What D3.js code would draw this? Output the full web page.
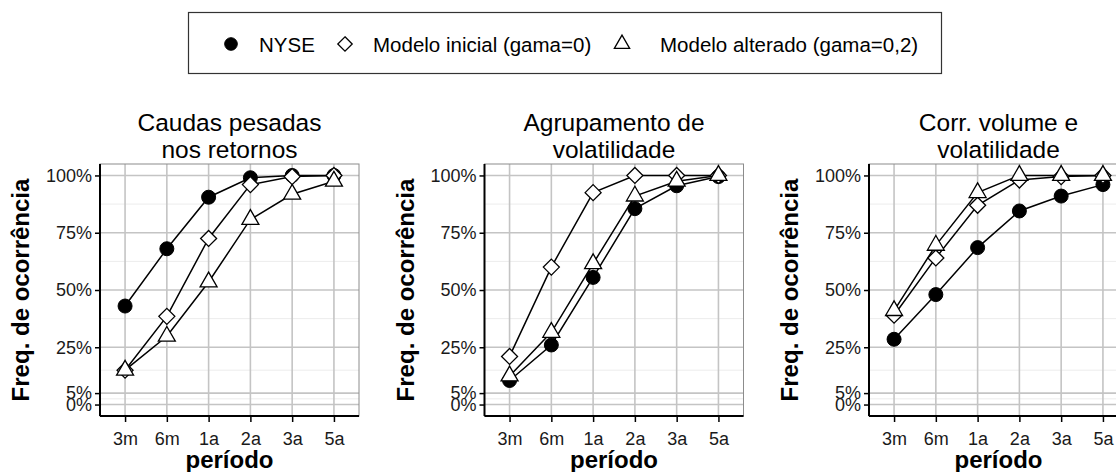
<!DOCTYPE html>
<html>
<head>
<meta charset="utf-8">
<style>
    body { margin: 0; background: #fff; }
    text { font-family: "Liberation Sans", Arial, sans-serif; }
</style>
</head>
<body>
    <div id="chart"></div>

    <script src="https://d3js.org/d3.v7.min.js"></script>
    <script type="text/javascript">
        // categorias do eixo x
        var periodos = ["3m", "6m", "1a", "2a", "3a", "5a"];
        var titulos = [["Caudas pesadas", "nos retornos"], ["Agrupamento de", "volatilidade"], ["Corr. volume e", "volatilidade"]];
        var seriesNomes = ["NYSE", "Modelo inicial (gama=0)", "Modelo alterado (gama=0,2)"];
        var yTicks = [0, 0.05, 0.25, 0.5, 0.75, 1];
        var yMinor = [0.025, 0.15, 0.375, 0.625, 0.875];

        // valores
        var nyseCaudas = [0.43, 0.68, 0.905, 0.99, 1.0, 1.0];
        var inicialCaudas = [0.15, 0.385, 0.725, 0.96, 0.995, 1.0];
        var alteradoCaudas = [0.15, 0.298, 0.535, 0.808, 0.918, 0.975];

        var nyseAgrup = [0.105, 0.26, 0.555, 0.855, 0.955, 0.995];
        var inicialAgrup = [0.21, 0.60, 0.925, 1.0, 1.0, 1.0];
        var alteradoAgrup = [0.125, 0.315, 0.615, 0.91, 0.975, 1.0];

        var nyseCorr = [0.285, 0.48, 0.685, 0.845, 0.91, 0.96];
        var inicialCorr = [0.39, 0.64, 0.87, 0.98, 0.995, 1.0];
        var alteradoCorr = [0.41, 0.695, 0.925, 1.0, 1.0, 1.0];

        var paineis = [
            [nyseCaudas, inicialCaudas, alteradoCaudas],
            [nyseAgrup, inicialAgrup, alteradoAgrup],
            [nyseCorr, inicialCorr, alteradoCorr]
        ];

        var w = 1116;
        var h = 472;
        var panelW = 259;
        var panelLeft = [100, 484.5, 869];
        var yTop = 164, yBottom = 416;

        var svg = d3.select('#chart')
            .append('svg')
            .attr('width', w)
            .attr('height', h);

        var y = d3.scaleLinear().domain([-0.05, 1.05]).range([yBottom, yTop]);

        // simbolos
        function losango(r) {
            return "M0," + (-r) + "L" + r + ",0L0," + r + "L" + (-r) + ",0Z";
        }
        function desenhaPonto(g, k, sc) {
            if (k == 0) {
                g.append('path').attr('d', d3.symbol().type(d3.symbolCircle).size(Math.PI * 49 * sc * sc)())
                    .attr('fill', '#000').attr('stroke', '#000');
            } else if (k == 1) {
                g.append('path').attr('d', losango(8 * sc))
                    .attr('fill', '#fff').attr('stroke', '#000').attr('stroke-width', 1.3);
            } else {
                g.append('path').attr('d', d3.symbol().type(d3.symbolTriangle).size(125 * sc * sc)())
                    .attr('fill', '#fff').attr('stroke', '#000').attr('stroke-width', 1.3);
            }
        }

        paineis.forEach(function (series, p) {
            var left = panelLeft[p];
            var x = d3.scalePoint().domain(periodos).range([left, left + panelW]).padding(0.6);
            var g = svg.append('g');

            // grade secundaria
            g.selectAll('.minor')
                .data(yMinor)
                .enter()
                .append('line')
                .attr('x1', left).attr('x2', left + panelW)
                .attr('y1', function (d) { return y(d); })
                .attr('y2', function (d) { return y(d); })
                .attr('stroke', '#ececec')
                .attr('stroke-width', 1);

            // grade principal
            g.selectAll('.hmaj')
                .data(yTicks)
                .enter()
                .append('line')
                .attr('x1', left).attr('x2', left + panelW)
                .attr('y1', function (d) { return y(d); })
                .attr('y2', function (d) { return y(d); })
                .attr('stroke', '#c4c4c4')
                .attr('stroke-width', 1.6);

            g.selectAll('.vmaj')
                .data(periodos)
                .enter()
                .append('line')
                .attr('x1', function (d) { return x(d); })
                .attr('x2', function (d) { return x(d); })
                .attr('y1', yTop).attr('y2', yBottom)
                .attr('stroke', '#c4c4c4')
                .attr('stroke-width', 1.6);

            // borda do painel
            g.append('rect')
                .attr('x', left).attr('y', yTop)
                .attr('width', panelW).attr('height', yBottom - yTop)
                .attr('fill', 'none')
                .attr('stroke', '#8c8c8c')
                .attr('stroke-width', 1);

            // eixos
            var ax = g.append('g')
                .attr('transform', 'translate(0,' + yBottom + ')')
                .call(d3.axisBottom(x).tickSize(6).tickPadding(10));
            var ay = g.append('g')
                .attr('transform', 'translate(' + left + ',0)')
                .call(d3.axisLeft(y).tickValues(yTicks).tickFormat(d3.format('.0%')).tickSize(5).tickPadding(3));

            [ax, ay].forEach(function (a) {
                a.select('.domain').attr('stroke', '#000').attr('stroke-width', 2);
                a.selectAll('.tick line').attr('stroke', '#000').attr('stroke-width', 1.5);
                a.selectAll('.tick text')
                    .attr('fill', '#1a1a1a')
                    .style('font-size', '18px')
                    .style('font-family', '"Liberation Sans", Arial, sans-serif');
            });
            ax.select('.domain').attr('d', 'M' + left + ',0H' + (left + panelW));
            ay.select('.domain').attr('d', 'M0,' + yTop + 'V' + yBottom);

            // linhas
            var linha = d3.line()
                .x(function (d, i) { return x(periodos[i]); })
                .y(function (d) { return y(d); });

            series.forEach(function (s) {
                g.append('path')
                    .attr('d', linha(s))
                    .attr('fill', 'none')
                    .attr('stroke', '#000')
                    .attr('stroke-width', 1.5);
            });

            // pontos
            series.forEach(function (s, k) {
                s.forEach(function (v, i) {
                    var pg = g.append('g')
                        .attr('transform', 'translate(' + x(periodos[i]) + ',' + y(v) + ')');
                    desenhaPonto(pg, k, 1);
                });
            });

            // titulo do painel
            var cx = left + panelW / 2;
            g.selectAll('.titulo')
                .data(titulos[p])
                .enter()
                .append('text')
                .text(function (d) { return d; })
                .attr('x', cx)
                .attr('y', function (d, i) { return 131 + i * 27; })
                .attr('text-anchor', 'middle')
                .style('font-size', '24.5px')
                .attr('fill', '#000');

            // titulos dos eixos
            g.append('text')
                .text('período')
                .attr('x', cx)
                .attr('y', 468)
                .attr('text-anchor', 'middle')
                .style('font-size', '24px')
                .style('font-weight', 'bold');

            g.append('text')
                .text('Freq. de ocorrência')
                .attr('transform', 'translate(' + (left - 79) + ',' + ((yTop + yBottom) / 2) + ') rotate(-90)')
                .attr('text-anchor', 'middle')
                .attr('dy', '0.35em')
                .style('font-size', '24px')
                .style('font-weight', 'bold');
        });

        // legenda
        var leg = svg.append('g');
        leg.append('rect')
            .attr('x', 188.5).attr('y', 12.5)
            .attr('width', 753).attr('height', 61)
            .attr('fill', '#fff')
            .attr('stroke', '#333')
            .attr('stroke-width', 1.2);

        var legX = [231, 345, 622];
        var legTx = [259, 373, 660];
        seriesNomes.forEach(function (nome, k) {
            var pg = leg.append('g').attr('transform', 'translate(' + legX[k] + ',44)');
            desenhaPonto(pg, k, 0.9);
            leg.append('text')
                .text(nome)
                .attr('x', legTx[k])
                .attr('y', 51.5)
                .style('font-size', '20.5px')
                .attr('fill', '#000');
        });
    </script>
</body>
</html>
